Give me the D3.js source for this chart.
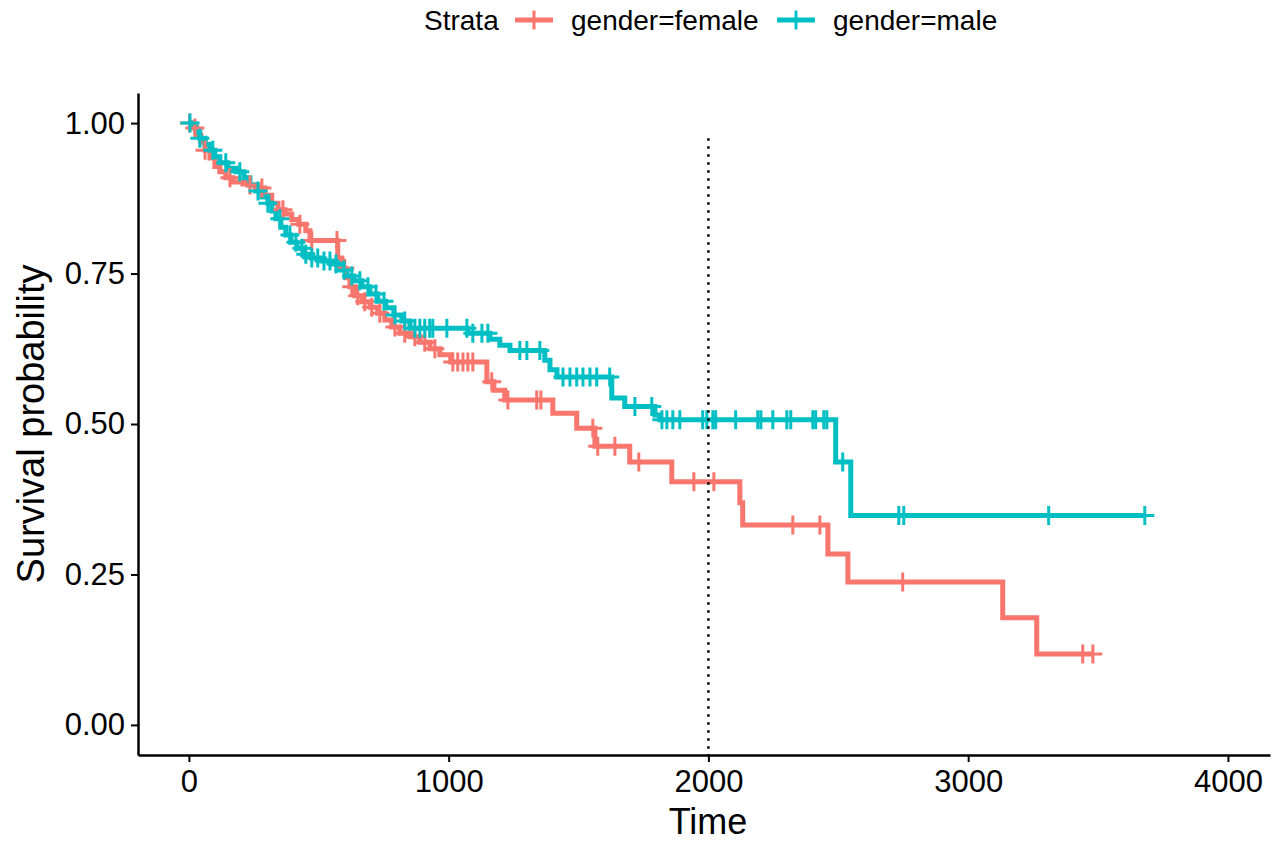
<!DOCTYPE html>
<html>
<head>
<meta charset="utf-8">
<script src="https://cdn.jsdelivr.net/npm/d3@7"></script>
<style>
  body { margin: 0; background: #fff; }
  svg { display: block; font-family: "Liberation Sans", Arial, sans-serif; }
</style>
</head>
<body>
<div class="surv-chart"></div>
<script>
// Kaplan-Meier steps: [time, survival after the drop]
const femaleSteps = [
    [15, 0.992], [31, 0.980], [46, 0.968], [62, 0.955], [81, 0.942], [100, 0.928],
    [119, 0.919], [142, 0.909], [169, 0.902], [227, 0.897], [266, 0.892], [293, 0.880],
    [319, 0.867], [343, 0.856], [370, 0.849], [396, 0.840], [423, 0.832], [450, 0.821],
    [466, 0.805], [573, 0.776], [589, 0.759], [604, 0.743], [620, 0.728], [639, 0.713],
    [666, 0.703], [697, 0.694], [727, 0.684], [754, 0.673], [781, 0.661], [812, 0.651],
    [851, 0.645], [889, 0.636], [928, 0.625], [966, 0.615], [1008, 0.603], [1147, 0.570],
    [1174, 0.556], [1216, 0.540], [1401, 0.518], [1493, 0.493], [1563, 0.463], [1697, 0.437],
    [1859, 0.404], [2121, 0.369], [2132, 0.332], [2460, 0.284], [2537, 0.2375], [3133, 0.178],
    [3264, 0.118]
];
const femaleEnd = 3481;
const femaleCensor = [
    3, 23, 62, 158, 235, 281, 362, 427, 473, 570, 600, 627, 650, 677, 704, 735, 793, 831,
    870, 908, 947, 1016, 1035, 1055, 1074, 1093, 1166, 1228, 1339, 1355, 1555, 1574, 1640,
    1732, 1944, 2021, 2325, 2429, 2748, 3441, 3480
];

const maleSteps = [
    [12, 0.993], [27, 0.985], [42, 0.975], [62, 0.965], [81, 0.955], [100, 0.944],
    [119, 0.934], [150, 0.925], [181, 0.919], [212, 0.909], [235, 0.897], [258, 0.887],
    [281, 0.877], [304, 0.867], [319, 0.854], [335, 0.841], [354, 0.827], [373, 0.814],
    [393, 0.802], [416, 0.792], [443, 0.782], [473, 0.776], [512, 0.771], [550, 0.766],
    [581, 0.756], [608, 0.746], [635, 0.738], [666, 0.728], [697, 0.716], [727, 0.704],
    [758, 0.693], [789, 0.681], [820, 0.671], [851, 0.659], [1074, 0.651], [1159, 0.641],
    [1197, 0.631], [1236, 0.622], [1370, 0.606], [1390, 0.590], [1417, 0.578], [1628, 0.543],
    [1678, 0.529], [1794, 0.515], [1813, 0.507], [2490, 0.437], [2548, 0.348]
];
const maleEnd = 3680;
const maleCensor = [
    4, 42, 92, 142, 196, 266, 304, 350, 389, 412, 435, 450, 473, 496, 520, 543, 566, 597,
    627, 658, 689, 720, 751, 793, 831, 870, 889, 908, 927, 939, 993, 1070, 1093, 1128, 1151,
    1274, 1301, 1351, 1440, 1467, 1493, 1517, 1544, 1570, 1620, 1717, 1782, 1821, 1840, 1863,
    1890, 1978, 1994, 2017, 2028, 2105, 2190, 2202, 2248, 2302, 2317, 2402, 2413, 2444, 2456,
    2517, 2733, 2752, 3310, 3680
];

const strataNames = ["gender=female", "gender=male"];
const strataColors = ["#F8766D", "#00BFC4"];
const xTicks = [0, 1000, 2000, 3000, 4000];
const yTicks = [0, 0.25, 0.5, 0.75, 1];
const medianTime = 2000;

function buildPath(steps, end) {
    let pts = [[0, 1]].concat(steps);
    pts.push([end, steps[steps.length - 1][1]]);
    return pts;
}

function survAt(steps, t) {
    let s = 1;
    steps.forEach(d => { if (d[0] <= t) s = d[1]; });
    return s;
}

const width = 1272, height = 842;
const svg = d3.select(".surv-chart").append("svg")
    .attr("width", width)
    .attr("height", height);

const x = d3.scaleLinear().domain([-196, 4162]).range([138, 1270]);
const y = d3.scaleLinear().domain([-0.05, 1.05]).range([755, 93]);

const strata = [
    {name: strataNames[0], color: strataColors[0], path: buildPath(femaleSteps, femaleEnd), steps: femaleSteps, censor: femaleCensor},
    {name: strataNames[1], color: strataColors[1], path: buildPath(maleSteps, maleEnd), steps: maleSteps, censor: maleCensor}
];

const line = d3.line()
    .x(d => x(d[0]))
    .y(d => y(d[1]))
    .curve(d3.curveStepAfter);

strata.forEach(s => {
    svg.append("path")
        .datum(s.path)
        .attr("fill", "none")
        .attr("stroke", s.color)
        .attr("stroke-width", 5)
        .attr("d", line);
});

// censor marks
const markHalf = 9.5;
strata.forEach(s => {
    svg.append("g")
        .selectAll("path")
        .data(s.censor)
        .join("path")
        .attr("fill", "none")
        .attr("stroke", s.color)
        .attr("stroke-width", 3)
        .attr("d", t => {
            let cx = x(t), cy = y(survAt(s.steps, t));
            return `M${cx - markHalf},${cy}H${cx + markHalf}M${cx},${cy - markHalf}V${cy + markHalf}`;
        });
});

// median line
svg.append("line")
    .attr("x1", x(medianTime))
    .attr("x2", x(medianTime))
    .attr("y1", y(0.975))
    .attr("y2", y(-0.05))
    .attr("stroke", "black")
    .attr("stroke-width", 2.5)
    .attr("stroke-dasharray", "2.5,5.5");

// axes
svg.append("g")
    .attr("transform", `translate(0,${y(-0.05)})`)
    .call(d3.axisBottom(x).tickValues(xTicks).tickFormat(d3.format("d")).tickSize(7).tickSizeOuter(0).tickPadding(8))
    .call(g => g.select(".domain").attr("stroke-width", 2.5))
    .call(g => g.selectAll(".tick line").attr("stroke-width", 2))
    .call(g => g.selectAll(".tick text").attr("font-size", 31).attr("fill", "black").attr("font-family", null));

svg.append("g")
    .attr("transform", `translate(${x(-196)},0)`)
    .call(d3.axisLeft(y).tickValues(yTicks).tickFormat(d3.format(".2f")).tickSize(7).tickSizeOuter(0).tickPadding(6))
    .call(g => g.select(".domain").attr("stroke-width", 2.5))
    .call(g => g.selectAll(".tick line").attr("stroke-width", 2))
    .call(g => g.selectAll(".tick text").attr("font-size", 31).attr("fill", "black").attr("font-family", null));

svg.append("text")
    .attr("x", 708)
    .attr("y", 834)
    .attr("text-anchor", "middle")
    .attr("font-size", 36)
    .text("Time");

svg.append("text")
    .attr("transform", `translate(44,${y(0.5)}) rotate(-90)`)
    .attr("text-anchor", "middle")
    .attr("font-size", 38)
    .text("Survival probability");

// legend
const legend = svg.append("g").attr("transform", "translate(0,20)");
legend.append("text")
    .attr("x", 424)
    .attr("y", 10)
    .attr("font-size", 28)
    .text("Strata");

const keyX = [515, 777];
strata.forEach((s, i) => {
    let k = legend.append("g").attr("transform", `translate(${keyX[i]},0)`);
    k.append("line").attr("x1", 0).attr("x2", 38).attr("y1", 0).attr("y2", 0)
        .attr("stroke", s.color).attr("stroke-width", 5);
    k.append("line").attr("x1", 19).attr("x2", 19).attr("y1", -9.5).attr("y2", 9.5)
        .attr("stroke", s.color).attr("stroke-width", 3);
    k.append("text")
        .attr("x", 56)
        .attr("y", 10)
        .attr("font-size", 28)
        .text(s.name);
});
</script>
</body>
</html>
